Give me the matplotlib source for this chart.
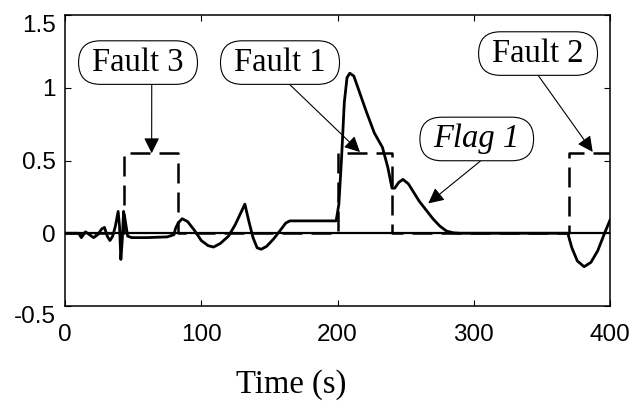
import matplotlib
matplotlib.use("Agg")
import matplotlib.pyplot as plt
from matplotlib.patches import BoxStyle

plt.rcParams['font.family'] = ['Liberation Sans', 'DejaVu Sans']

# residual of flag 1 (solid)
t_flag = [0, 8, 10, 12, 15, 18, 21, 24, 27, 29, 31, 33, 35, 37, 39, 40, 41, 42,
          43, 44, 46, 49, 60, 75, 80, 81, 83, 86, 90, 95, 100, 105, 109, 114,
          120, 125, 129, 132, 135, 138, 141, 144, 148, 153, 158, 162, 165, 199,
          201, 203, 205, 207, 209, 212, 215, 218, 221, 227, 233, 237, 240, 242,
          245, 248, 252, 256, 260, 265, 270, 275, 280, 285, 290, 369, 372, 376,
          381, 386, 391, 396, 400]
y_flag = [0, 0, 0, -0.03, 0.01, -0.01, -0.03, -0.01, 0.03, 0.04, -0.02, -0.05,
          -0.02, 0.05, 0.15, 0.05, -0.18, -0.05, 0.15, 0.1, -0.02, -0.03,
          -0.03, -0.025, -0.01, 0.03, 0.07, 0.1, 0.08, 0.02, -0.05, -0.085,
          -0.095, -0.07, -0.02, 0.06, 0.14, 0.2, 0.08, -0.03, -0.1, -0.11,
          -0.09, -0.04, 0.02, 0.07, 0.085, 0.085, 0.2, 0.52, 0.9, 1.07, 1.1,
          1.08, 1.0, 0.92, 0.84, 0.69, 0.59, 0.45, 0.31, 0.31, 0.35, 0.37,
          0.34, 0.28, 0.22, 0.16, 0.1, 0.05, 0.015, 0.003, 0, 0, -0.1, -0.19,
          -0.23, -0.2, -0.12, 0, 0.09]

# fault indicator (dashed)
t_fault = [0, 43, 43, 83, 83, 200, 200, 240, 240, 370, 370, 400]
y_fault = [0, 0, 0.55, 0.55, 0, 0, 0.55, 0.55, 0, 0, 0.55, 0.55]

# zero reference
t_zero = [0, 400]
y_zero = [0, 0]

xticks = [0, 100, 200, 300, 400]
yticks = [-0.5, 0, 0.5, 1, 1.5]
ytick_labels = ['-0.5', '0', '0.5', '1', '1.5']


def pill(x0, y0, width, height, mutation_size):
    padx = 0.42 * mutation_size
    pady = 0.2 * mutation_size
    h = height + 2 * pady
    return BoxStyle.Round(pad=0, rounding_size=0.5 * h / mutation_size)(
        x0 - padx, y0 - pady, width + 2 * padx, h, mutation_size)


fig = plt.figure(figsize=(6.3, 4.01), dpi=100)
ax = fig.add_axes([65 / 630, 95 / 401, 545 / 630, 291 / 401])

ax.plot(t_zero, y_zero, color='black', lw=1.6)
ax.plot(t_fault, y_fault, color='black', lw=1.8, linestyle=(0, (8, 3.6)))
ax.plot(t_flag, y_flag, color='black', lw=2.0)

ax.set_xlim(0, 400)
ax.set_ylim(-0.5, 1.5)
ax.set_xticks(xticks)
ax.set_yticks(yticks)
ax.set_yticklabels(ytick_labels)
for lab in ax.get_yticklabels():
    if lab.get_text() in ('1.5', '-0.5'):
        lab.set_va('top')
ax.tick_params(direction='in', top=True, right=True, length=4, width=0.8,
               labelsize=17.5)
ax.tick_params(axis='x', pad=13)
ax.tick_params(axis='y', pad=6.5)
for sp in ax.spines.values():
    sp.set_linewidth(1.1)

ax.set_xlabel('Time (s)', family='Liberation Serif', fontsize=23.5, va='baseline')
ax.xaxis.set_label_coords(226 / 545, -87 / 291)

box = dict(boxstyle=pill, fc='white', ec='black', lw=0.8)
arrow = dict(arrowstyle='-|>', color='black', lw=0.8, shrinkA=0, shrinkB=0)
serif = dict(family='Liberation Serif', fontsize=23.5, ha='center', va='center')

ax.annotate('Fault 3', xy=(63.6, 0.55), xytext=(53.6, 1.173), bbox=box,
            arrowprops=dict(arrow, relpos=(0.65, 0)), **serif)
ax.annotate('Fault 1', xy=(216.5, 0.558), xytext=(157.8, 1.173), bbox=box,
            arrowprops=dict(arrow, relpos=(0.53, 0)), **serif)
ax.annotate('Fault 2', xy=(387.3, 0.559), xytext=(347.2, 1.235), bbox=box,
            arrowprops=dict(arrow, relpos=(0.45, 0)), **serif)
ax.annotate('Flag 1', xy=(266.6, 0.205), xytext=(302.2, 0.648), bbox=box,
            style='italic', arrowprops=dict(arrow, relpos=(0.64, 0)), **serif)

fig.savefig('out.png', dpi=100)
